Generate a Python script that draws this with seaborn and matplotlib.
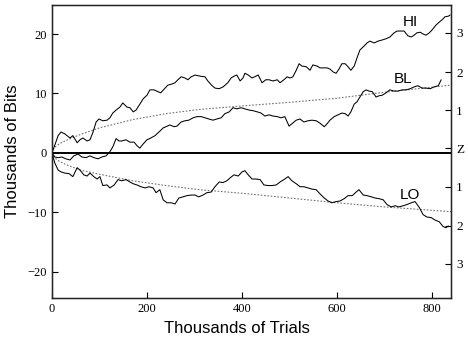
import matplotlib
matplotlib.use('Agg')
import matplotlib.pyplot as plt
import seaborn as sns

# ---- data (x: thousands of trials, y: thousands of bits) ----
hi_x = [0, 6, 13, 19, 27, 38, 44, 53, 59, 65, 74, 80, 86, 93, 99, 107, 116, 122, 128, 135,
        143, 149, 158, 164, 171, 177, 185, 192, 200, 206, 215, 223, 229, 238, 244, 253, 259, 265, 272, 280,
        286, 293, 301, 312, 322, 328, 337, 343, 352, 360, 370, 377, 383, 389, 396, 402, 406, 413, 421, 429,
        434, 442, 450, 457, 465, 474, 480, 488, 495, 501, 507, 514, 520, 526, 535, 543, 549, 558, 564, 570,
        579, 585, 592, 598, 604, 610, 617, 623, 629, 636, 642, 648, 657, 663, 669, 678, 686, 695, 703, 711,
        720, 726, 735, 741, 749, 756, 762, 768, 775, 781, 787, 794, 800, 808, 815, 821, 827, 834, 838]
hi_y = [0, 1.3, 2.9, 3.5, 3.2, 2.5, 2.9, 1.7, 2.2, 2.5, 2.0, 2.2, 3.4, 5.2, 5.7, 5.4, 5.5, 5.9, 6.7, 7.2,
        7.7, 8.4, 7.7, 7.6, 6.9, 7.2, 8.2, 9.1, 9.7, 10.6, 10.6, 10.3, 10.1, 10.9, 11.4, 11.6, 11.8, 12.3, 12.8, 12.6,
        12.3, 12.8, 13.1, 12.9, 12.8, 12.1, 11.3, 10.9, 10.8, 11.1, 11.8, 12.6, 12.9, 13.1, 12.1, 12.6, 13.4, 13.1, 12.6, 12.9,
        13.1, 11.8, 12.3, 12.3, 12.1, 12.3, 11.8, 12.3, 12.8, 12.6, 12.8, 13.9, 15.0, 14.6, 14.5, 13.9, 14.8, 14.6, 14.3, 14.3,
        14.3, 14.1, 13.6, 13.4, 14.1, 15.0, 15.0, 14.5, 13.9, 14.6, 16.0, 17.3, 18.0, 18.5, 18.8, 18.5, 18.8, 19.0, 19.2, 19.5,
        20.2, 20.5, 20.5, 20.5, 19.7, 19.5, 19.8, 20.2, 20.3, 20.0, 19.8, 20.2, 20.7, 21.5, 22.0, 22.4, 22.9, 23.0, 23.2]

bl_x = [0, 6, 13, 21, 29, 38, 46, 55, 63, 72, 80, 88, 97, 105, 114, 122, 128, 135, 141, 147,
        156, 164, 173, 179, 185, 192, 200, 208, 217, 225, 234, 240, 248, 257, 263, 272, 280, 288, 297, 305,
        314, 322, 330, 339, 347, 356, 364, 373, 381, 389, 398, 406, 415, 423, 432, 440, 448, 457, 465, 474,
        482, 490, 499, 505, 514, 522, 530, 539, 547, 556, 564, 573, 579, 585, 594, 602, 610, 617, 623, 629,
        636, 642, 648, 655, 661, 667, 674, 682, 688, 695, 703, 711, 720, 728, 737, 745, 754, 762, 770, 779,
        787, 796, 804, 813, 819]
bl_y = [0, -0.7, -0.8, -0.7, -1.0, -1.2, -0.5, -0.2, -0.7, -0.8, -0.5, -0.8, -1.0, -0.7, -0.5, 0.2, 1.0, 2.4, 2.0, 2.0,
        2.2, 1.8, 1.8, 1.2, 0.8, 1.5, 2.2, 2.5, 2.9, 3.5, 4.2, 4.4, 4.7, 4.4, 4.5, 5.2, 5.4, 5.5, 5.9, 6.1,
        6.1, 5.9, 5.7, 5.5, 5.7, 5.9, 6.6, 6.9, 7.6, 7.4, 7.6, 7.4, 7.2, 7.1, 6.9, 6.7, 6.2, 6.4, 6.2, 6.1,
        5.9, 6.1, 4.5, 4.9, 5.5, 5.7, 5.2, 5.4, 5.5, 5.4, 5.0, 4.4, 4.9, 5.5, 6.1, 6.4, 6.7, 6.6, 6.2, 6.9,
        8.2, 8.6, 9.4, 10.3, 10.6, 10.4, 10.3, 9.4, 9.6, 9.7, 10.1, 10.6, 10.4, 10.4, 10.6, 10.6, 10.8, 11.1, 11.3, 10.9,
        10.9, 10.8, 11.1, 11.3, 12.3]

lo_x = [0, 6, 13, 19, 27, 36, 44, 53, 59, 67, 74, 80, 88, 95, 101, 107, 116, 122, 131, 139,
        147, 156, 164, 171, 179, 187, 196, 204, 213, 219, 227, 234, 242, 251, 259, 267, 276, 284, 293, 301,
        309, 318, 326, 335, 343, 352, 360, 368, 375, 383, 392, 400, 406, 413, 421, 429, 438, 446, 455, 463,
        472, 480, 488, 497, 505, 514, 522, 530, 539, 547, 556, 564, 573, 581, 589, 598, 606, 615, 623, 632,
        640, 646, 655, 663, 672, 680, 688, 697, 705, 714, 722, 730, 739, 747, 756, 764, 773, 781, 789, 798,
        806, 815, 823, 829, 834]
lo_y = [0, -1.7, -2.9, -3.2, -3.4, -3.5, -4.0, -2.5, -2.9, -3.7, -3.9, -3.4, -4.0, -4.4, -4.0, -5.5, -5.4, -5.9, -5.4, -4.5,
        -4.7, -4.5, -4.9, -5.2, -5.4, -5.7, -5.9, -5.7, -5.9, -6.7, -6.2, -7.9, -8.4, -8.4, -8.6, -7.6, -7.4, -7.2, -7.1, -7.1,
        -7.4, -7.1, -6.7, -6.6, -5.7, -4.9, -5.0, -4.7, -4.2, -3.7, -3.9, -3.2, -3.0, -3.7, -4.4, -4.4, -4.5, -5.4, -5.5, -5.5,
        -5.4, -4.9, -4.5, -4.0, -4.7, -5.2, -5.7, -5.7, -5.9, -6.1, -6.2, -6.9, -7.6, -8.1, -8.4, -8.2, -8.1, -7.7, -7.2, -7.2,
        -6.6, -6.2, -7.1, -7.2, -7.4, -7.6, -7.7, -7.9, -8.7, -9.1, -8.9, -9.1, -8.9, -8.7, -8.4, -8.2, -9.2, -10.4, -10.8, -10.9,
        -11.3, -11.6, -12.4, -12.6, -12.3]

# dotted envelopes
env_x = [0, 5, 15, 30, 60, 100, 170, 240, 310, 400, 500, 600, 700, 840]
env_hi = [0, 0.9, 1.5, 2.1, 3.1, 4.2, 5.6, 6.6, 7.3, 7.9, 8.5, 9.2, 10.2, 11.4]
env_lo = [0, -0.8, -1.4, -2.0, -2.9, -3.6, -4.7, -5.5, -6.2, -6.8, -7.6, -8.4, -9.1, -9.9]

x_ticks = [0, 200, 400, 600, 800]
y_ticks = [-20, -10, 0, 10, 20]
z_ticks = [-18.7, -12.3, -5.7, 0.8, 7.2, 13.6, 20.2]
z_labels = ['3', '2', '1', 'Z', '1', '2', '3']

series = [('HI', hi_x, hi_y, (754, 22.0)),
          ('BL', bl_x, bl_y, (739, 12.4)),
          ('LO', lo_x, lo_y, (754, -7.1))]

# ---- plot ----
sns.set_style('ticks')
plt.rcParams['font.family'] = ['Liberation Sans', 'DejaVu Sans']
plt.rcParams['text.color'] = 'black'
plt.rcParams['axes.labelcolor'] = 'black'

fig = plt.figure(figsize=(4.68, 3.5), dpi=100)
ax = fig.add_axes([0.111, 0.149, 0.853, 0.837])

for env in (env_hi, env_lo):
    sns.lineplot(x=env_x, y=env, ax=ax, color='0.45', lw=0.8,
                 linestyle=(0, (1.5, 1.5)), estimator=None, sort=False)

ax.axhline(0, color='black', lw=1.4, zorder=3)

for name, xs, ys, pos in series:
    sns.lineplot(x=xs, y=ys, ax=ax, color='black', lw=0.75, estimator=None, sort=False)
    ax.text(pos[0], pos[1], name, ha='center', va='center', fontsize=11, color='black')

ax.set_xlim(0, 840)
ax.set_ylim(-24.4, 24.9)
ax.set_xticks(x_ticks)
ax.set_yticks(y_ticks)
ax.tick_params(direction='in', length=4, width=0.8, labelsize=9, colors='black')
for lab in ax.get_xticklabels() + ax.get_yticklabels():
    lab.set_fontfamily('Liberation Serif')

for sp in ax.spines.values():
    sp.set_color('black')
    sp.set_linewidth(1.0)

ax.set_xlabel('Thousands of Trials', fontsize=12, color='black')
ax.set_ylabel('Thousands of Bits', fontsize=12, color='black')
ax.xaxis.set_label_coords(0.464, -0.08)
ax.yaxis.set_label_coords(-0.08, 0.5)

ax2 = ax.twinx()
ax2.set_ylim(ax.get_ylim())
ax2.set_yticks(z_ticks)
ax2.set_yticklabels(z_labels)
ax2.tick_params(direction='in', length=4, width=0.8, labelsize=9.5, colors='black')
for lab in ax2.get_yticklabels():
    lab.set_fontfamily('Liberation Serif')

fig.savefig('out.png', dpi=100)
